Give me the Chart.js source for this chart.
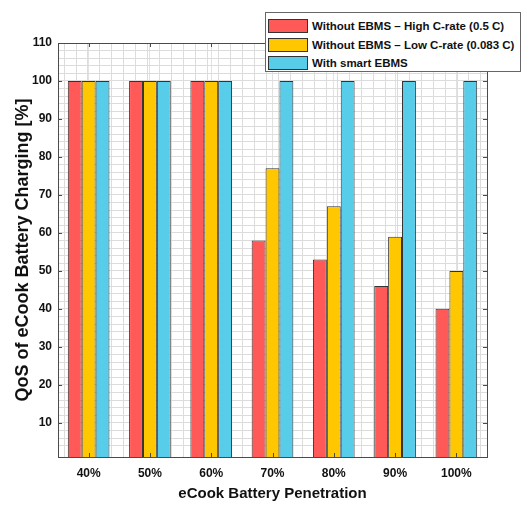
<!DOCTYPE html>
<html>
<head>
<meta charset="utf-8">
<script src="https://cdn.jsdelivr.net/npm/chart.js@4"></script>
<style>
  body { margin: 0; background: #fff; }
  #wrap { position: relative; width: 522px; height: 505px; }
  #legend {
    position: absolute; left: 265px; top: 12px; width: 256px; height: 60px;
    background: #fff; border: 1px solid #666; box-sizing: border-box;
    font: bold 11.5px "Liberation Sans", Arial, sans-serif; color: #111;
  }
  .item { position: absolute; left: 2px; height: 18px; display: flex; align-items: center; white-space: nowrap; }
  .swatch { width: 40px; height: 14px; border: 1px solid #333; box-sizing: border-box; margin-right: 4px; flex: none; }
</style>
</head>
<body>
<div id="wrap">
  <canvas id="chart" width="522" height="505"></canvas>
  <div id="legend"></div>
</div>
<script>
// Categorias e séries
var penetration = ['40%', '50%', '60%', '70%', '80%', '90%', '100%']
var highRate = [100, 100, 100, 58, 53, 46, 40]
var lowRate = [100, 100, 100, 77, 67, 59, 50]
var smartEbms = [100, 100, 100, 100, 100, 100, 100]
var seriesNames = ['Without EBMS \u2013 High C-rate (0.5 C)', 'Without EBMS \u2013 Low C-rate (0.083 C)', 'With smart EBMS']

// Cores
var colorHigh = '#ff5a57'
var colorLow = '#ffc700'
var colorSmart = '#57cdea'
var frameColor = '#4a4a4a'

var fontFamily = '"Liberation Sans", Arial, sans-serif'

// Marcas de escala para dentro do gráfico (estilo MATLAB)
var innerTicks = {
  id: 'innerTicks',
  afterDraw: function (chart) {
    var ctx = chart.ctx
    var area = chart.chartArea
    var x = chart.scales.x
    var y = chart.scales.y
    ctx.save()
    ctx.strokeStyle = frameColor
    ctx.lineWidth = 1
    ctx.beginPath()
    y.ticks.forEach(function (t) {
      if (t.value % 10 !== 0 || t.value >= 110) return
      var py = Math.round(y.getPixelForValue(t.value)) + 0.5
      ctx.moveTo(area.left, py); ctx.lineTo(area.left + 4, py)
      ctx.moveTo(area.right, py); ctx.lineTo(area.right - 4, py)
    })
    x.ticks.forEach(function (t, i) {
      var px = Math.round(x.getPixelForTick(i)) + 0.5
      ctx.moveTo(px, area.bottom); ctx.lineTo(px, area.bottom - 4)
      ctx.moveTo(px, area.top); ctx.lineTo(px, area.top + 4)
    })
    ctx.stroke()
    ctx.restore()
  }
}

var chart = new Chart(document.getElementById('chart'), {
  type: 'bar',
  data: {
    labels: penetration,
    datasets: [
      { label: seriesNames[0], data: highRate, backgroundColor: colorHigh },
      { label: seriesNames[1], data: lowRate, backgroundColor: colorLow },
      { label: seriesNames[2], data: smartEbms, backgroundColor: colorSmart }
    ]
  },
  options: {
    responsive: false,
    animation: false,
    layout: { padding: { top: 43, right: 35, left: 0, bottom: 0 } },
    datasets: {
      bar: {
        borderColor: '#333',
        borderWidth: 1,
        borderSkipped: false,
        categoryPercentage: 0.68,
        barPercentage: 1
      }
    },
    plugins: {
      legend: { display: false },
      tooltip: { enabled: false }
    },
    scales: {
      x: {
        type: 'category',
        offset: true,
        grid: { offset: false, color: '#e2e2e2', drawTicks: false },
        border: { display: true, color: frameColor },
        ticks: { padding: 9, color: '#111', font: { family: fontFamily, size: 12, weight: 'bold' } },
        title: {
          display: true, text: 'eCook Battery Penetration', color: '#111',
          padding: { top: 0, bottom: 2 },
          font: { family: fontFamily, size: 15, weight: 'bold' }
        },
        afterFit: function (s) { s.height = 48 }
      },
      xMinor: {
        type: 'linear',
        position: 'top',
        min: -0.5,
        max: 6.5,
        afterBuildTicks: function (s) {
          var t = []
          for (var k = -2; k <= 32; k++) t.push({ value: +(k * 0.2).toFixed(1) })
          s.ticks = t
        },
        grid: { color: '#dcdcdc', borderDash: [1, 3], drawTicks: false },
        border: { display: true, color: frameColor },
        ticks: { display: false },
        afterFit: function (s) { s.height = 0 }
      },
      y: {
        min: 1,
        max: 110,
        ticks: {
          stepSize: 10,
          padding: 6,
          color: '#111',
          font: { family: fontFamily, size: 12, weight: 'bold' },
          callback: function (v) { return v % 10 === 0 ? v : '' }
        },
        grid: { color: '#e2e2e2', drawTicks: false },
        border: { display: true, color: frameColor },
        title: {
          display: true, text: 'QoS of eCook Battery Charging [%]', color: '#111',
          padding: { top: 12, bottom: 0 },
          font: { family: fontFamily, size: 18, weight: 'bold' }
        },
        afterFit: function (s) { s.width = 58 }
      },
      yMinor: {
        type: 'linear',
        position: 'right',
        min: 1,
        max: 110,
        ticks: { display: false, stepSize: 2 },
        grid: { color: '#dcdcdc', borderDash: [1, 3], drawTicks: false },
        border: { display: true, color: frameColor },
        afterFit: function (s) { s.width = 0 }
      }
    }
  },
  plugins: [innerTicks]
})

// Legenda em HTML, montada a partir dos datasets
var legendDiv = document.getElementById('legend')
chart.data.datasets.forEach(function (ds, i) {
  var item = document.createElement('div')
  item.className = 'item'
  item.style.top = (4 + i * 18.5) + 'px'
  var sw = document.createElement('div')
  sw.className = 'swatch'
  sw.style.background = ds.backgroundColor
  var txt = document.createElement('span')
  txt.textContent = ds.label
  item.appendChild(sw)
  item.appendChild(txt)
  legendDiv.appendChild(item)
})
</script>
</body>
</html>
